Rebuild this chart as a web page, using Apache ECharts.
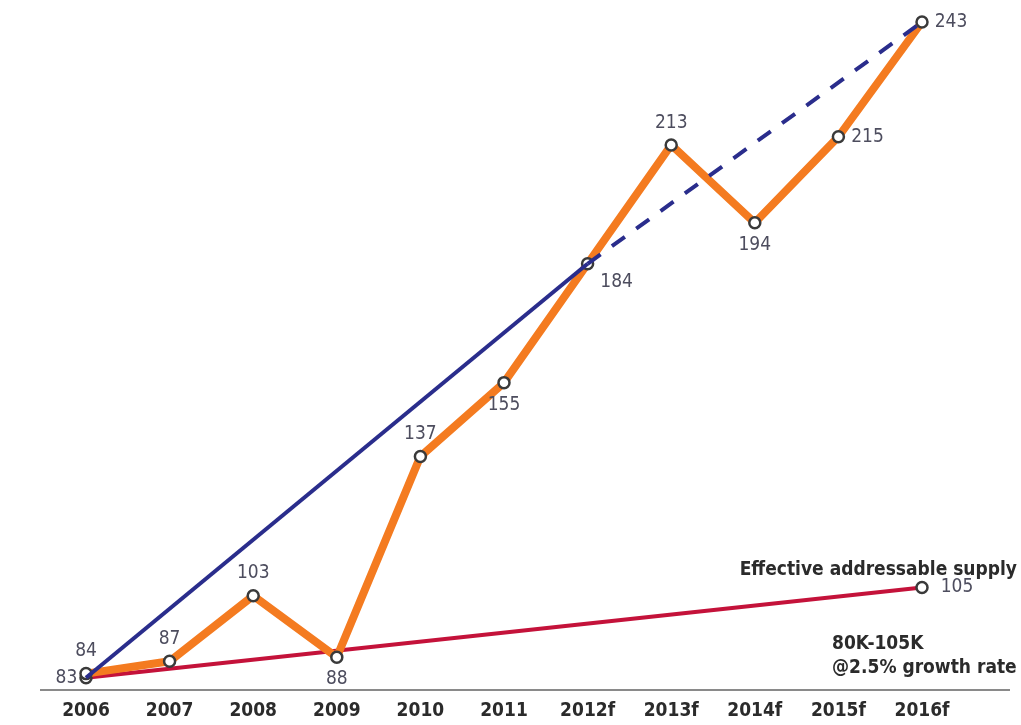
<!DOCTYPE html>
<html>
<head>
<meta charset="utf-8">
<script src="https://cdn.jsdelivr.net/npm/echarts@6/dist/echarts.min.js"></script>
<style>
  html, body { margin: 0; padding: 0; background: #fff; }
  #main { width: 1021px; height: 725px; }
</style>
</head>
<body>
<div id="main"></div>
<script>
// categories and values
const categories = ['2006', '2007', '2008', '2009', '2010', '2011', '2012f', '2013f', '2014f', '2015f', '2016f'];
const demand = [84, 87, 103, 88, 137, 155, 184, 213, 194, 215, 243];
const trendSolid = [83, null, null, null, null, null, 184, null, null, null, null];
const trendDashed = [null, null, null, null, null, null, 184, null, null, null, 243];
const supply = [83, null, null, null, null, null, null, null, null, null, 105];

// where each value label sits
const demandLabelPos = ['top', 'top', 'top', 'bottom', 'top', 'bottom', 'right', 'top', 'bottom', 'right', 'right'];
const supplyLabelPos = ['left', null, null, null, null, null, null, null, null, null, 'right'];

const FONT = "'Liberation Sans Narrow', 'DejaVu Sans Condensed', sans-serif";
const LABEL_COLOR = '#4d4d5e';

let myChart = echarts.init(document.getElementById('main'));

const circle = {
  color: '#fff',
  borderColor: '#3a3a3a',
  borderWidth: 2.5
};

myChart.setOption({
  animation: false,
  grid: { left: 86, right: 99, top: 22, bottom: 35 },
  xAxis: {
    type: 'category',
    data: categories,
    boundaryGap: false,
    axisLine: { show: false },
    axisTick: { show: false },
    axisLabel: {
      color: '#2b2b2b',
      fontFamily: FONT,
      fontWeight: 'bold',
      fontSize: 19,
      margin: 12
    }
  },
  yAxis: {
    type: 'value',
    min: 80,
    max: 243,
    show: false,
    splitLine: { show: false }
  },
  graphic: [
    {
      type: 'line',
      shape: { x1: 40, y1: 690, x2: 1010, y2: 690 },
      style: { stroke: '#8a8a8a', lineWidth: 2 },
      z: 0
    },
    {
      type: 'text',
      right: 4,
      top: 561,
      style: {
        text: 'Effective addressable supply',
        fontFamily: FONT,
        fontWeight: 'bold',
        fontSize: 19,
        fill: '#2b2b2b'
      }
    },
    {
      type: 'text',
      left: 832,
      top: 632,
      style: {
        text: '80K-105K\n@2.5% growth rate',
        fontFamily: FONT,
        fontWeight: 'bold',
        fontSize: 19,
        lineHeight: 24,
        fill: '#2b2b2b'
      }
    }
  ],
  series: [
    {
      name: 'supply',
      type: 'line',
      data: supply.map((v, i) => v === null ? null : ({
        value: v,
        label: { position: supplyLabelPos[i], distance: i === 0 ? 2 : 12 }
      })),
      connectNulls: true,
      lineStyle: { color: '#c4123a', width: 4 },
      symbol: 'circle',
      symbolSize: 11,
      itemStyle: circle,
      label: {
        show: true,
        fontFamily: FONT,
        fontSize: 19,
        color: LABEL_COLOR
      },
      labelLayout: { hideOverlap: false },
      z: 2
    },
    {
      name: 'demand',
      type: 'line',
      data: demand.map((v, i) => ({
        value: v,
        label: { position: demandLabelPos[i], offset: i === 6 ? [0, 18] : [0, 0] }
      })),
      lineStyle: { color: '#f47b20', width: 8 },
      symbol: 'circle',
      symbolSize: 11,
      itemStyle: circle,
      label: {
        show: true,
        fontFamily: FONT,
        fontSize: 19,
        color: LABEL_COLOR,
        distance: 6
      },
      z: 3
    },
    {
      name: 'trend',
      type: 'line',
      data: trendSolid,
      connectNulls: true,
      showSymbol: false,
      lineStyle: { color: '#2a2d8c', width: 4 },
      z: 4
    },
    {
      name: 'trend forecast',
      type: 'line',
      data: trendDashed,
      connectNulls: true,
      showSymbol: false,
      lineStyle: { color: '#2a2d8c', width: 4, type: [16, 14] },
      z: 4
    }
  ]
});
</script>
</body>
</html>
